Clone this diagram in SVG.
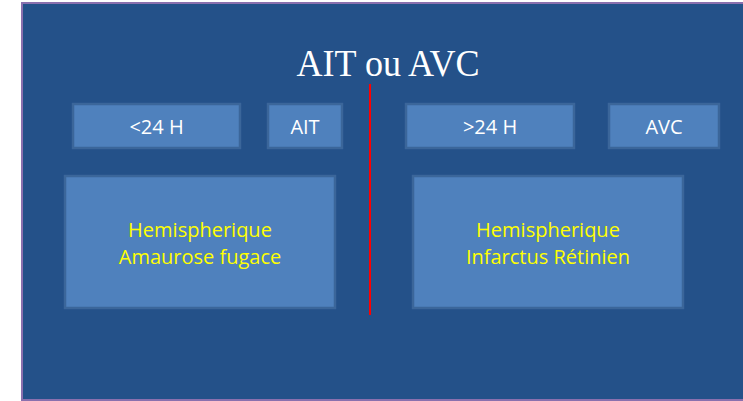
<svg xmlns="http://www.w3.org/2000/svg" width="743" height="401" viewBox="0 0 743 401">
<style>
.box{fill:#4F81BD;stroke:#3B669A;stroke-width:2.5}
.w{font-family:"Open Sans","Liberation Sans",sans-serif;font-size:20px;fill:#FFFFFF;text-anchor:middle}
.y{font-family:"Open Sans","Liberation Sans",sans-serif;font-size:20px;fill:#FFFF00;text-anchor:middle}
</style>
<rect x="0" y="0" width="743" height="401" fill="#FFFFFF"/>
<rect x="22" y="3" width="730" height="397" fill="#245189" stroke="#8A70AE" stroke-width="2"/>
<text x="388" y="76" font-family="'Liberation Serif','Times New Roman',serif" font-size="37" fill="#FFFFFF" text-anchor="middle" textLength="183" lengthAdjust="spacingAndGlyphs">AIT ou AVC</text>
<g id="connectors">
<line x1="370" y1="84" x2="370" y2="315" stroke="#FF0000" stroke-width="2"/>
</g>
<g id="lt24"><rect class="box" x="73" y="104" width="167" height="44"/><text class="w" x="156.5" y="134">&lt;24 H</text></g>
<g id="ait"><rect class="box" x="268" y="104" width="74" height="44"/><text class="w" x="305" y="134">AIT</text></g>
<g id="gt24"><rect class="box" x="406" y="104" width="168" height="44"/><text class="w" x="490" y="134">&gt;24 H</text></g>
<g id="avc"><rect class="box" x="609" y="104" width="110" height="44"/><text class="w" x="664" y="134">AVC</text></g>
<g id="left"><rect class="box" x="65" y="176" width="270" height="132"/><text class="y" x="200" y="237">Hemispherique</text><text class="y" x="200" y="264">Amaurose fugace</text></g>
<g id="right"><rect class="box" x="413" y="176" width="270" height="132"/><text class="y" x="548" y="237">Hemispherique</text><text class="y" x="548" y="264">Infarctus Rétinien</text></g>
</svg>
